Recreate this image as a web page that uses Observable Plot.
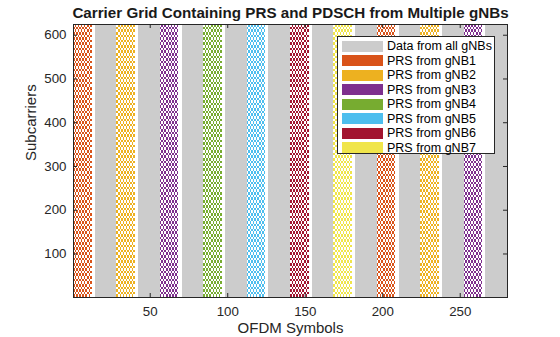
<!DOCTYPE html>
<html>
<head>
<meta charset="utf-8">
<script src="https://cdn.jsdelivr.net/npm/d3@7"></script>
<script src="https://cdn.jsdelivr.net/npm/@observablehq/plot@0.6"></script>
<style>
  body { margin: 0; background: white; }
  #wrap { position: relative; width: 560px; height: 337px; font-family: "Liberation Sans", Arial, sans-serif; }
  #legend { position: absolute; left: 337px; top: 36px; width: 158px; height: 118px; background: white;
            border: 1px solid #262626; box-sizing: border-box; padding-top: 3px; }
  .row { position: relative; height: 14.5px; }
  .sw { position: absolute; left: 4px; top: 0.5px; width: 41px; height: 11px; }
  .lab { position: absolute; left: 49px; top: -1px; font-size: 12.5px; color: #000; white-space: nowrap; line-height: 14px; }
</style>
</head>
<body>
<div id="wrap"></div>
<script>
// ---- carrier grid description ----
const symbolsPerSlot = 14;
const numSlots = 20;
const numSubcarriers = 624;            // 52 RB x 12
const numPRSSymbols = 12;              // PRS occupies symbols 0..11 of its slot
const combCellHeight = 6;              // apparent height (subcarriers) of a PRS checker cell
// what each slot carries
const slotContent = ["gNB1","PDSCH","gNB2","PDSCH","gNB3","PDSCH","gNB4","PDSCH","gNB5","PDSCH",
                     "gNB6","PDSCH","gNB7","PDSCH","gNB1","PDSCH","gNB2","PDSCH","gNB3","PDSCH"];
const gnbNames  = ["gNB1","gNB2","gNB3","gNB4","gNB5","gNB6","gNB7"];
const gnbColors = ["#d95319","#edb120","#7e2f8e","#77ac30","#4dbeee","#a2142f","#f0e54a"];
const dataColor = "#cccccc";
const legendLabels = ["Data from all gNBs","PRS from gNB1","PRS from gNB2","PRS from gNB3",
                      "PRS from gNB4","PRS from gNB5","PRS from gNB6","PRS from gNB7"];
const xTicks = [50, 100, 150, 200, 250];
const yTicks = [100, 200, 300, 400, 500, 600];

// ---- build tables ----
const dataSlots = [];
const prsCells = [];
slotContent.forEach((c, slot) => {
  const s0 = slot * symbolsPerSlot; // 0-based first symbol
  if (c === "PDSCH") {
    dataSlots.push({x1: s0 + 0.5, x2: s0 + symbolsPerSlot + 0.5});
  } else {
    for (let k = 0; k < numPRSSymbols; k++) {
      for (let b = 0; b < numSubcarriers / combCellHeight; b++) {
        if ((k + b) % 2 === 0) {
          prsCells.push({gnb: c, x1: s0 + k + 0.5, x2: s0 + k + 1.5,
                         y1: b * combCellHeight + 0.5, y2: (b + 1) * combCellHeight + 0.5});
        }
      }
    }
  }
});

const W = 560, H = 337, mL = 73, mR = 53, mT = 24, mB = 40;
const pw = W - mL - mR, ph = H - mT - mB, tl = 4;
const ink = "#262626";

const chart = Plot.plot({
  width: W, height: H,
  marginLeft: mL, marginRight: mR, marginTop: mT, marginBottom: mB,
  style: {fontFamily: "'Liberation Sans', Arial, sans-serif", background: "white", color: ink},
  x: {domain: [0.5, symbolsPerSlot * numSlots + 0.5], axis: null},
  y: {domain: [0.5, numSubcarriers + 0.5], axis: null},
  color: {domain: gnbNames, range: gnbColors},
  marks: [
    Plot.rect(dataSlots, {x1: "x1", x2: "x2", y1: 0.5, y2: numSubcarriers + 0.5, fill: dataColor, shapeRendering: "crispEdges"}),
    Plot.rect(prsCells, {x1: "x1", x2: "x2", y1: "y1", y2: "y2", fill: "gnb", shapeRendering: "crispEdges"}),
    Plot.frame({stroke: ink, strokeWidth: 1}),
    Plot.ruleX(xTicks, {x: d => d, insetTop: ph - tl, stroke: ink}),
    Plot.ruleX(xTicks, {x: d => d, insetBottom: ph - tl, stroke: ink}),
    Plot.ruleY(yTicks, {y: d => d, insetRight: pw - tl, stroke: ink}),
    Plot.ruleY(yTicks, {y: d => d, insetLeft: pw - tl, stroke: ink}),
    Plot.text(xTicks, {x: d => d, frameAnchor: "bottom", lineAnchor: "middle", dy: 14, text: d => String(d), fontSize: 13.3, fill: ink}),
    Plot.text(yTicks, {y: d => d, frameAnchor: "left", dx: -7, textAnchor: "end", text: d => String(d), fontSize: 13.3, fill: ink}),
    Plot.text(["OFDM Symbols"], {frameAnchor: "bottom", lineAnchor: "middle", dy: 31, text: d => d, fontSize: 15, fill: ink}),
    Plot.text(["Subcarriers"], {frameAnchor: "left", dx: -42.5, rotate: -90, text: d => d, fontSize: 15, fill: ink}),
    Plot.text(["Carrier Grid Containing PRS and PDSCH from Multiple gNBs"], {frameAnchor: "top", lineAnchor: "middle", dy: -11, text: d => d, fontSize: 15.2, fontWeight: "bold", fill: "#1a1a1a"})
  ]
});
const wrap = document.getElementById("wrap");
wrap.appendChild(chart);

const legend = document.createElement("div");
legend.id = "legend";
const legendColors = [dataColor, ...gnbColors];
legendLabels.forEach((l, i) => {
  const row = document.createElement("div");
  row.className = "row";
  row.innerHTML = `<div class="sw" style="background:${legendColors[i]}"></div><div class="lab">${l}</div>`;
  legend.appendChild(row);
});
wrap.appendChild(legend);
</script>
</body>
</html>
